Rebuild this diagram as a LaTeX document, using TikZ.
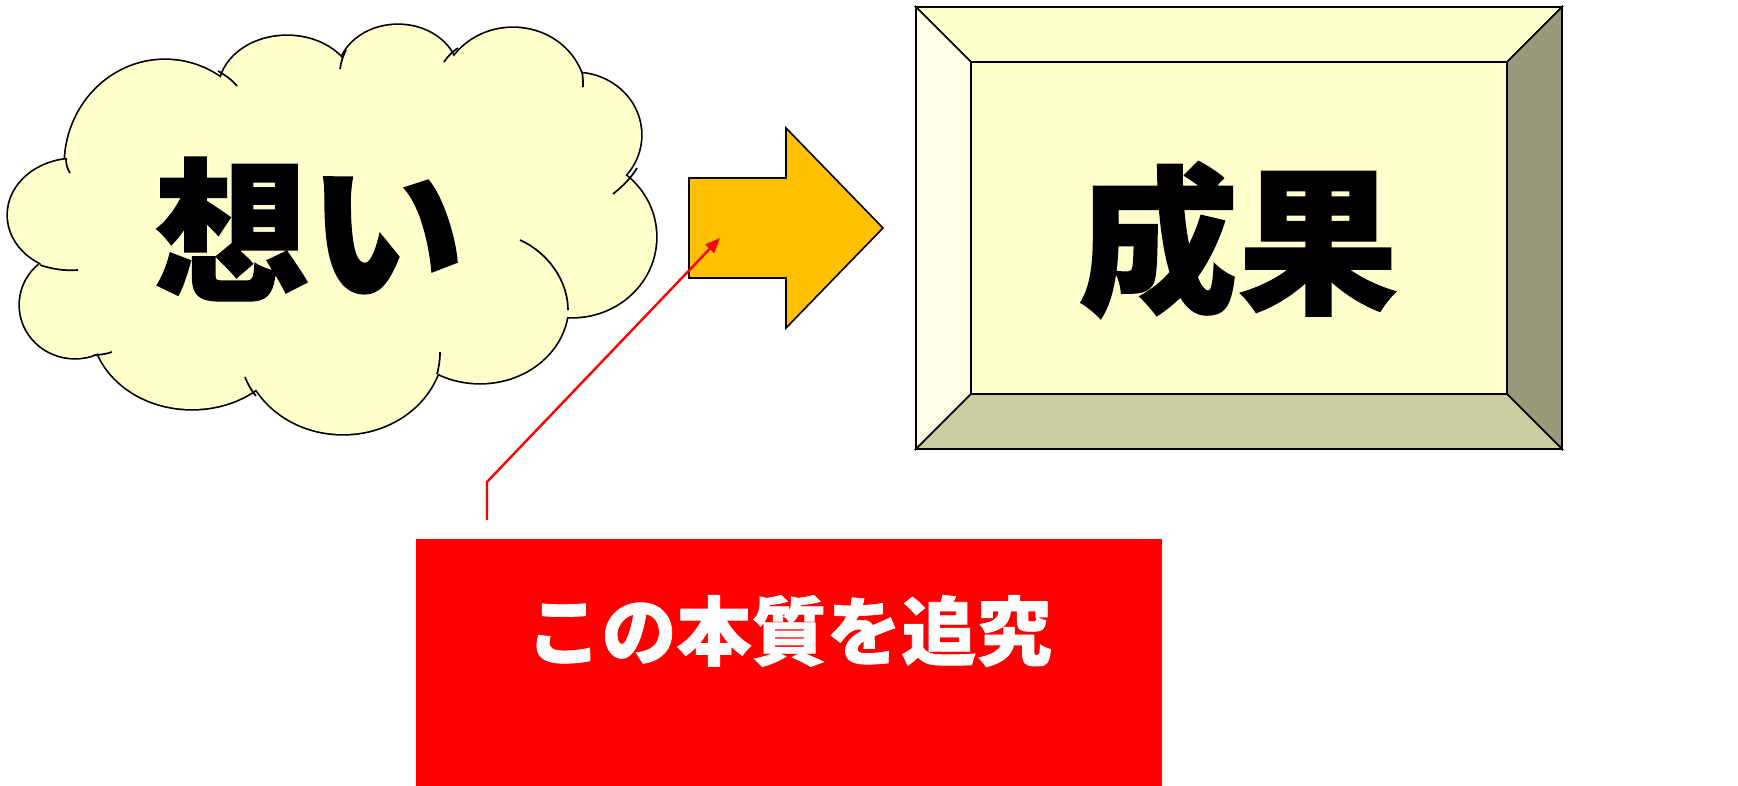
\documentclass[tikz,border=0pt]{standalone}
\usepackage{fontspec}
\newfontfamily\jpfont{Noto Sans CJK JP}[BoldFeatures={FakeBold=0.9}]
\usetikzlibrary{arrows.meta}
\definecolor{cloudY}{HTML}{FFFFCC}
\definecolor{arrowO}{HTML}{FFC000}
\definecolor{bevL}{HTML}{FFFFE5}
\definecolor{bevT}{HTML}{FFFFCC}
\definecolor{bevR}{HTML}{99997A}
\definecolor{bevB}{HTML}{CCCCA3}
\definecolor{calloutR}{HTML}{FF0000}
\newcommand\cloudlobes[1]{%
  \path[#1] (165,165) ellipse[x radius=100pt,y radius=105pt];
  \path[#1] (75,215) ellipse[x radius=67pt,y radius=56pt];
  \path[#1] (75,305) ellipse[x radius=55pt,y radius=53pt];
  \path[#1] (192,325) ellipse[x radius=100pt,y radius=84pt];
  \path[#1] (343,345) ellipse[x radius=100pt,y radius=89pt];
  \path[#1] (480,305) ellipse[x radius=88pt,y radius=78pt];
  \path[#1] (572,237) ellipse[x radius=84pt,y radius=80pt];
  \path[#1] (575,135) ellipse[x radius=66pt,y radius=62pt];
  \path[#1] (513,95) ellipse[x radius=72pt,y radius=67pt];
  \path[#1] (398,75) ellipse[x radius=60pt,y radius=50pt];
  \path[#1] (287,90) ellipse[x radius=68pt,y radius=54pt];
}
\begin{document}
\begin{tikzpicture}[x=1pt,y=-1pt,
  outl/.style={draw=black,line width=1.6pt,line join=miter},
  tail/.style={draw=black,line width=1.7pt},
  bigjp/.style={font=\jpfont\bfseries\fontsize{155}{160}\selectfont,inner sep=0pt},
  redjp/.style={font=\jpfont\bfseries\fontsize{75}{80}\selectfont,text=white,inner sep=0pt},
  lead/.style={draw=calloutR,line width=2.4pt,-{Triangle[length=15pt,width=12pt]}}]
\useasboundingbox (0,0) rectangle (1738,785);
% ---------- cloud ----------
\cloudlobes{draw=black,line width=3.4pt}
\cloudlobes{fill=cloudY}
\fill[cloudY] (165,165) -- (287,90) -- (398,75) -- (513,95) -- (575,135) -- (572,237)
  -- (480,305) -- (343,345) -- (192,325) -- (75,305) -- (75,215) -- cycle;
\path[tail] (66,158) .. controls (66,164) and (67,168) .. (70,173);
\path[tail] (218,71) .. controls (225,75) and (231,79) .. (237,86);
\path[tail] (346,50) .. controls (343,56) and (341,62) .. (340,69);
\path[tail] (458,48) .. controls (452,52) and (448,56) .. (444,62);
\path[tail] (582,72) .. controls (583,77) and (583,81) .. (583,87);
\path[tail] (637,168) .. controls (631,178) and (623,186) .. (613,194);
\path[tail] (520,240) .. controls (547,252) and (568,280) .. (568,310);
\path[tail] (437,374) .. controls (439,367) and (440,360) .. (440,352);
\path[tail] (256,396) .. controls (252,391) and (248,385) .. (245,377);
\path[tail] (94,355) .. controls (100,355) and (106,354) .. (112,352);
\path[tail] (40,265) .. controls (52,269) and (64,271) .. (78,270);
\node[bigjp] (omoi) at (309,229) {想い};
% ---------- block arrow ----------
\draw[outl,fill=arrowO] (689,178) -- (786,178) -- (786,128) -- (883,228)
  -- (786,328) -- (786,278) -- (689,278) -- cycle;
\coordinate (arrowin) at (720,238);
% ---------- bevel box ----------
\draw[outl,fill=bevT] (916,7) -- (1562,7) -- (1507,62) -- (971,62) -- cycle;
\draw[outl,fill=bevL] (916,7) -- (971,62) -- (971,394) -- (916,449) -- cycle;
\draw[outl,fill=bevR] (1562,7) -- (1562,449) -- (1507,394) -- (1507,62) -- cycle;
\draw[outl,fill=bevB] (916,449) -- (1562,449) -- (1507,394) -- (971,394) -- cycle;
\draw[outl,fill=cloudY] (971,62) rectangle (1507,394);
\node[bigjp,font=\jpfont\bfseries\fontsize{160}{165}\selectfont] (seika) at (1238,240) {成果};
% ---------- red callout ----------
\node[fill=calloutR,inner sep=0pt,minimum width=746pt,minimum height=252pt,anchor=north west] (callout) at (416,539) {};
\node[redjp] (tsuikyu) at (789,631) {この本質を追究};
\coordinate (leadstart) at (487,520);
\coordinate (leadbend) at (487,482);
\draw[lead] (leadstart) -- (leadbend) -- (arrowin);
\end{tikzpicture}
\end{document}
